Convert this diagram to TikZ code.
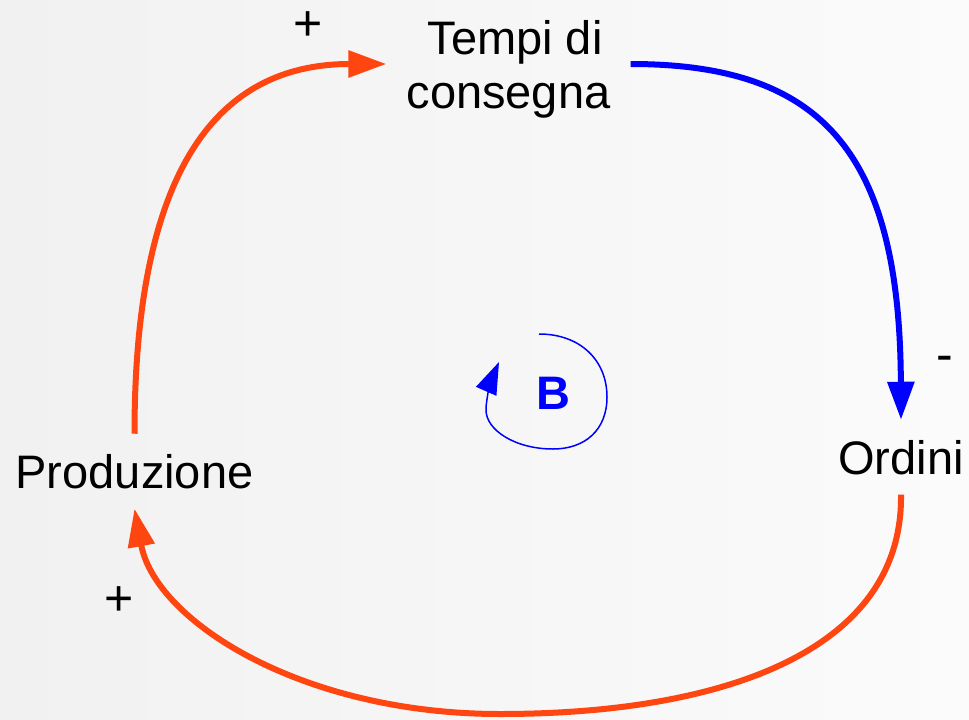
\documentclass[tikz,border=0pt]{standalone}
\usepackage{fontspec}
\setmainfont{Liberation Sans}
\usetikzlibrary{arrows.meta}
\definecolor{cldred}{RGB}{255,69,16}
\definecolor{cldblue}{RGB}{0,0,255}
\definecolor{bgleft}{RGB}{241,241,241}
\definecolor{bgright}{RGB}{251,251,251}
\tikzset{
  lbl/.style={font=\fontsize{47}{54}\selectfont, inner sep=20pt, text=black},
  sign/.style={font=\fontsize{50}{56}\selectfont, inner sep=0pt, text=black, anchor=base},
  link/.style={line width=6pt, -{Triangle[length=38pt,width=26pt]}},
  poslink/.style={link, draw=cldred},
  neglink/.style={link, draw=cldblue},
  looparrow/.style={draw=cldblue, line width=1.5pt, -{Triangle[length=32pt,width=22pt]}}
}
\begin{document}
\begin{tikzpicture}[x=1pt,y=-1pt]
  \shade[left color=bgleft, right color=bgright] (0,0) rectangle (969,720);
  \useasboundingbox (0,0) rectangle (969,720);

  \node[lbl, align=center] (tempi) at (508.5,69) {\hphantom{\ }Tempi di\\consegna};
  \node[lbl, anchor=base] (ord) at (901,474) {Ordini};
  \node[lbl, anchor=base] (prod) at (134.5,488) {Produzione};

  \node[sign] (plus1) at (308,40) {+};
  \node[sign] (minus) at (945,371) {-};
  \node[sign] (plus2) at (119,615.5) {+};

  \draw[poslink] (prod.north) .. controls (134.5,150) and (230,64) .. ([yshift=5pt]tempi.west);
  \draw[neglink] ([yshift=5pt]tempi.east) .. controls (820,64) and (900,150) .. (ord.north);
  \draw[poslink] (ord.south) .. controls (903,650) and (725,714) .. (500,714)
                 .. controls (300,714) and (155,620) .. (prod.south);

  \node[font=\fontsize{47}{54}\selectfont\bfseries, text=cldblue, inner sep=0pt] (B) at (553,393) {B};
  \draw[looparrow] (539,334) .. controls (580,334) and (607,360) .. (607,397)
        .. controls (607,430) and (585,449) .. (553,449)
        .. controls (515,449) and (486,430) .. (486,410)
        .. controls (486,398) and (492,378) .. (499,362);
\end{tikzpicture}
\end{document}
